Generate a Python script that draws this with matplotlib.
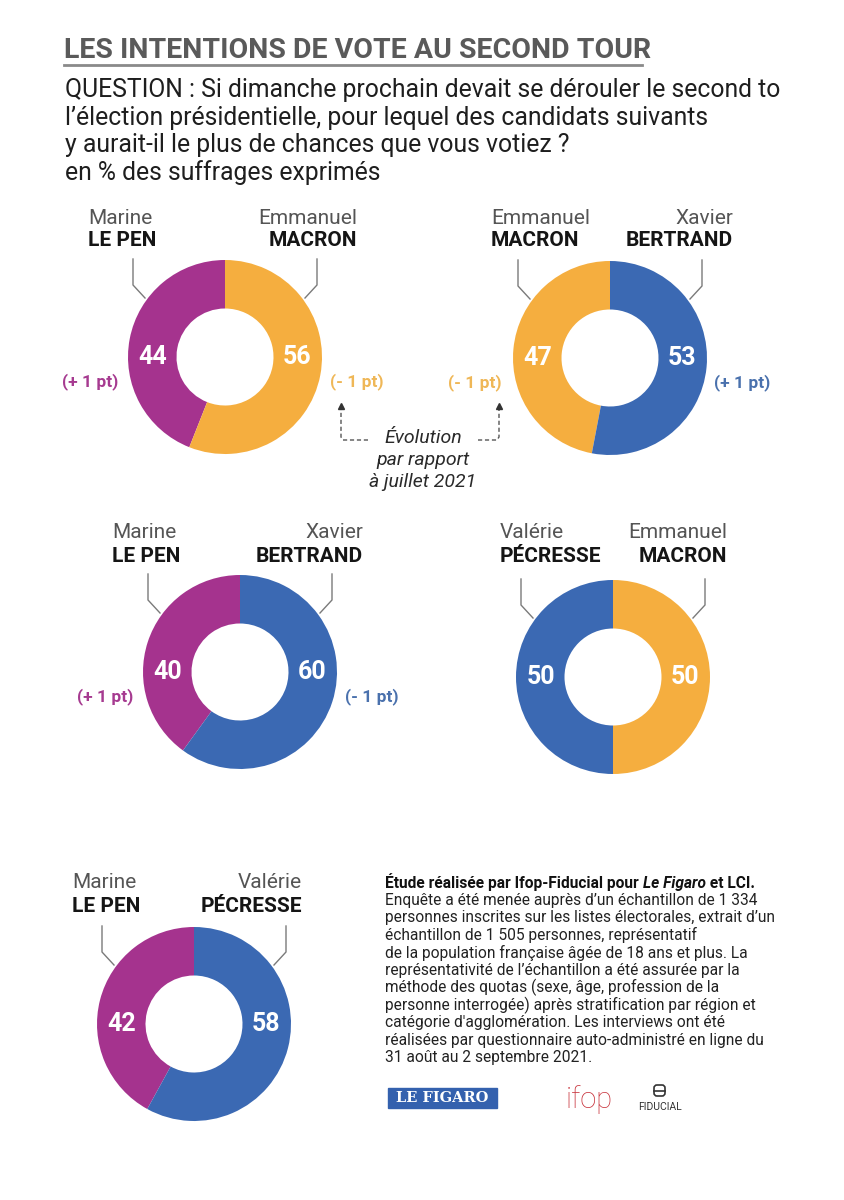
import matplotlib.pyplot as plt
from matplotlib.patches import Rectangle, FancyBboxPatch

plt.rcParams['font.family'] = ['Roboto', 'DejaVu Sans']

# duels: left candidate / right candidate
first_left = ['Marine', 'Emmanuel', 'Marine', 'Valérie', 'Marine']
last_left = ['LE PEN', 'MACRON', 'LE PEN', 'PÉCRESSE', 'LE PEN']
first_right = ['Emmanuel', 'Xavier', 'Xavier', 'Emmanuel', 'Valérie']
last_right = ['MACRON', 'BERTRAND', 'BERTRAND', 'MACRON', 'PÉCRESSE']
scores_left = [44, 47, 40, 50, 42]
scores_right = [56, 53, 60, 50, 58]
evol_left = ['(+ 1 pt)', '(- 1 pt)', '(+ 1 pt)', '', '']
evol_right = ['(- 1 pt)', '(+ 1 pt)', '(- 1 pt)', '', '']

colors = {'LE PEN': '#A5338E', 'MACRON': '#F5AE3F',
          'BERTRAND': '#3B69B3', 'PÉCRESSE': '#3B69B3'}
evol_colors = {'LE PEN': '#A63A90', 'MACRON': '#EFB757',
               'BERTRAND': '#4A71AD', 'PÉCRESSE': '#4A71AD'}

W, H = 844, 1200
# donut centres in pixels (from top-left), radius
centers = [(225, 357), (610, 358), (240, 672), (613, 677), (194, 1024)]
R = 97
name_top = [218, 218, 533, 533, 883]
name_dx_left = [-137, -119, -128, -113, -122]
name_dx_right = [132, 123, 123, 114, 108]

fig = plt.figure(figsize=(8.44, 12), dpi=100)
ax = fig.add_axes([0, 0, 1, 1])

for i, (cx, cy) in enumerate(centers):
    y = H - cy
    ax.pie([scores_left[i], scores_right[i]],
           colors=[colors[last_left[i]], colors[last_right[i]]],
           startangle=90, counterclock=True, center=(cx, y), radius=R,
           wedgeprops=dict(width=R * 0.5, linewidth=0))
    # values
    ax.text(cx - 0.745 * R, y, str(scores_left[i]), ha='center', va='center',
            color='white', fontsize=18, weight='bold')
    ax.text(cx + 0.745 * R, y, str(scores_right[i]), ha='center', va='center',
            color='white', fontsize=18, weight='bold')
    # names
    ny = name_top[i]
    ax.text(cx + name_dx_left[i], H - ny, first_left[i], ha='left',
            va='center', fontsize=15, color='#555555')
    ax.text(cx + name_dx_left[i], H - (ny + 23), last_left[i], ha='left',
            va='center', fontsize=15, color='#151515', weight='bold')
    ax.text(cx + name_dx_right[i], H - ny, first_right[i], ha='right',
            va='center', fontsize=15, color='#555555')
    ax.text(cx + name_dx_right[i], H - (ny + 23), last_right[i], ha='right',
            va='center', fontsize=15, color='#151515', weight='bold')
    # leader lines
    for s in (-1, 1):
        ax.plot([cx + s * 92, cx + s * 92, cx + s * 80],
                [H - (cy - 98), H - (cy - 72), H - (cy - 59)],
                color='#7a7a7a', lw=1)
    # evolution
    if evol_left[i]:
        ax.text(cx - 135, H - (cy + 25), evol_left[i], ha='center', va='center',
                fontsize=12.5, weight='bold', color=evol_colors[last_left[i]])
        ax.text(cx + 132, H - (cy + 25), evol_right[i], ha='center', va='center',
                fontsize=12.5, weight='bold', color=evol_colors[last_right[i]])

# title + question
ax.text(64, H - 50, 'LES INTENTIONS DE VOTE AU SECOND TOUR', ha='left',
        va='center', fontsize=20.5, weight='bold', color='#5a5a5a')
ax.plot([64, 642], [H - 65, H - 65], color='#8a8a8a', lw=2)
question = ['QUESTION : Si dimanche prochain devait se dérouler le second to',
            'l\u2019élection présidentielle, pour lequel des candidats suivants',
            'y aurait-il le plus de chances que vous votiez ?',
            'en % des suffrages exprimés']
for k, line in enumerate(question):
    ax.text(65, H - (90 + 27.5 * k), line, ha='left', va='center',
            fontsize=17.8, color='#1e1e1e')

# evolution note with dashed arrows
for k, line in enumerate(['Évolution', 'par rapport', 'à juillet 2021']):
    ax.text(423, H - (438 + 22 * k), line, ha='center', va='center',
            fontsize=14, style='italic', color='#2a2a2a')
ax.plot([368, 343, 341, 341], [H - 440, H - 440, H - 437, H - 410],
        color='#555555', lw=1, ls=(0, (3, 2)))
ax.plot([341], [H - 406], marker='^', ms=5, color='#333333')
ax.plot([478, 497, 499, 499], [H - 440, H - 440, H - 437, H - 410],
        color='#555555', lw=1, ls=(0, (3, 2)))
ax.plot([499], [H - 406], marker='^', ms=5, color='#333333')

# source block
source = ['Enquête a été menée auprès d\u2019un échantillon de 1 334',
          'personnes inscrites sur les listes électorales, extrait d\u2019un',
          'échantillon de 1 505 personnes, représentatif',
          'de la population française âgée de 18 ans et plus. La',
          'représentativité de l\u2019échantillon a été assurée par la',
          'méthode des quotas (sexe, âge, profession de la',
          'personne interrogée) après stratification par région et',
          'catégorie d\'agglomération. Les interviews ont été',
          'réalisées par questionnaire auto-administré en ligne du',
          '31 août au 2 septembre 2021.']
fs_src = 11.2
t1 = ax.text(385, H - 882, 'Étude réalisée par Ifop-Fiducial pour ', ha='left',
             va='center', fontsize=fs_src, weight='bold', color='#111111')
t2 = ax.annotate('Le Figaro', xy=(1, 0), xycoords=t1, va='bottom', ha='left',
                 fontsize=fs_src, weight='bold', style='italic', color='#111111')
ax.annotate(' et LCI.', xy=(1, 0), xycoords=t2, va='bottom', ha='left',
            fontsize=fs_src, weight='bold', color='#111111')
for k, line in enumerate(source):
    ax.text(385, H - (900 + 17.5 * k), line, ha='left', va='center',
            fontsize=fs_src, color='#222222')

# logos
ax.add_patch(Rectangle((388, H - 1108), 109, 20, color='#3461AE'))
ax.text(442.5, H - 1098, 'LE FIGARO', ha='center', va='center', fontsize=10.5,
        weight='bold', color='white', family='DejaVu Serif')
ax.text(566, H - 1100, 'ifop', ha='left', va='center', fontsize=21,
        weight='light', color='#C8333C')
ax.add_patch(FancyBboxPatch((654, H - 1096), 11, 11,
                            boxstyle='round,pad=0,rounding_size=3',
                            fc='none', ec='#333333', lw=1.2))
ax.plot([654, 665], [H - 1090.5, H - 1090.5], color='#333333', lw=1.2)
ax.text(660, H - 1107, 'FIDUCIAL', ha='center', va='center', fontsize=7.5,
        color='#333333')

ax.set_xlim(0, W)
ax.set_ylim(0, H)
ax.set_aspect('equal')
ax.axis('off')

fig.savefig('out.png', dpi=100)
